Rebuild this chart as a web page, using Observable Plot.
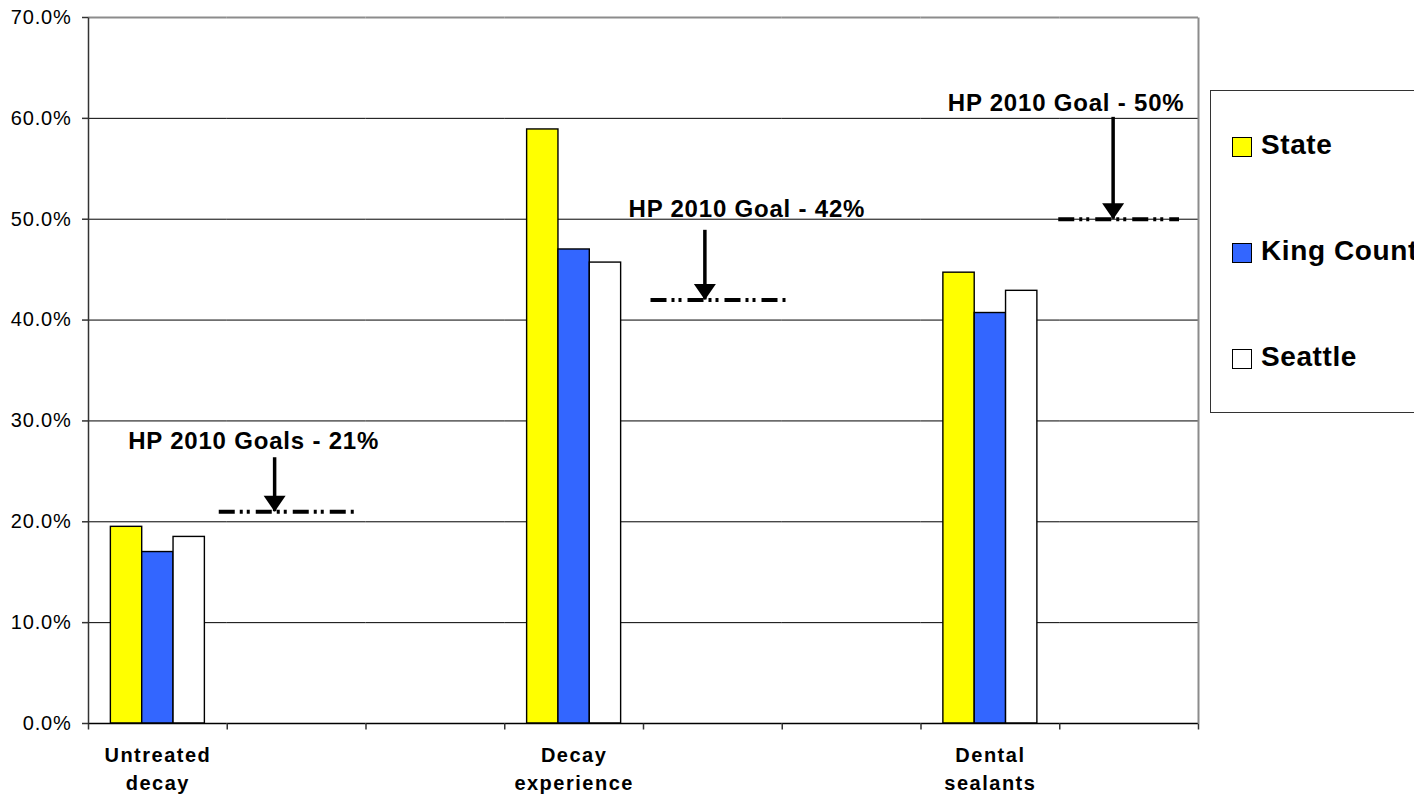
<!DOCTYPE html>
<html>
<head>
<meta charset="utf-8">
<script src="https://cdn.jsdelivr.net/npm/d3@7"></script>
<script src="https://cdn.jsdelivr.net/npm/@observablehq/plot@0.6"></script>
<style>
  html, body { margin: 0; padding: 0; background: #fff; overflow: hidden; }
  #chart { position: relative; width: 1414px; height: 795px; overflow: hidden; font-family: "Liberation Sans", Arial, sans-serif; }
  #chart svg { position: absolute; left: 0; top: 0; }
  .legend { position: absolute; left: 1210px; top: 90px; width: 260px; height: 323px; border: 1px solid #333; box-sizing: border-box; background: #fff; }
  .legend .item { position: absolute; left: 21px; height: 28px; display: flex; align-items: center; font-weight: bold; font-size: 28px; line-height: 28px; letter-spacing: 0.6px; white-space: nowrap; color: #000; }
  .legend .swatch { width: 18px; height: 18px; border: 1.5px solid #000; margin-right: 9px; margin-top: 3px; flex: none; }
</style>
</head>
<body>
<div id="chart"></div>
<script>
// Oral health indicators vs. Healthy People 2010 goals
const categories = ["Untreated decay", "Decay experience", "Dental sealants"];
const series = ["State", "King County", "Seattle"];
const seriesColors = ["#FFFF00", "#3366FF", "#FFFFFF"];
const state = [19.5, 58.9, 44.7];
const kingCounty = [17.0, 47.0, 40.7];
const seattle = [18.5, 45.7, 42.9];
const goalValues = [21, 42, 50];
const goalLabels = ["HP 2010 Goals - 21%", "HP 2010 Goal - 42%", "HP 2010 Goal - 50%"];
const yTicks = [0, 10, 20, 30, 40, 50, 60, 70];

// Layout of the chart
const W = 1414, H = 795;
const mL = 88, mR = 216, mT = 17, mB = 72;
const plotH = H - mT - mB;
const yMax = yTicks[yTicks.length - 1];

// Each category gets its own slot, followed by a slot for its goal and a spacer
const goalSlot = c => "goal: " + c;
const gapSlot = c => "gap: " + c;
const slots = categories.flatMap((c, i) =>
  i < categories.length - 1 ? [c, goalSlot(c), gapSlot(c)] : [c, goalSlot(c)]);
const step = (W - mL - mR) / slots.length;

const values = [state, kingCounty, seattle];
const rows = categories.flatMap((c, i) =>
  series.map((s, k) => ({slot: c, series: s, value: values[k][i]})));
const goals = categories.map((c, i) => ({slot: goalSlot(c), value: goalValues[i], label: goalLabels[i]}));

// Placement of each goal callout (pixel offsets from the slot centre, heights in %)
const callouts = [
  {lineDx: -8, insetLeft: 0, insetRight: 0, arrowDx: -22, arrowFrom: 26.35, labelDx: -43, labelAt: 27.25},
  {lineDx: 7.5, insetLeft: 0, insetRight: 0, arrowDx: -8, arrowFrom: 48.9, labelDx: 34, labelAt: 50.2},
  {lineDx: 0, insetLeft: -1, insetRight: 19, arrowDx: -16, arrowFrom: 60.1, labelDx: -63, labelAt: 60.7}
];

// Filled downward arrowhead with its tip at the origin
const arrowHead = {
  draw(ctx) { ctx.moveTo(0, 0); ctx.lineTo(-11, -16); ctx.lineTo(11, -16); ctx.closePath(); }
};
// Short tick hanging below the category axis
const tickMark = {
  draw(ctx) { ctx.moveTo(0, 0); ctx.lineTo(0, 6); }
};
// Vertical edge of the plotting area, drawn up from the baseline
const edgeLine = {
  draw(ctx) { ctx.moveTo(0, 0); ctx.lineTo(0, -plotH); }
};
const middle = () => series[1]; // centre band of a slot

const calloutMarks = callouts.flatMap((o, i) => {
  const g = [goals[i]];
  return [
    Plot.ruleY(g, {fx: "slot", y: "value", dx: o.lineDx, insetLeft: o.insetLeft, insetRight: o.insetRight,
      stroke: "#000", strokeWidth: 4, strokeDasharray: "16,5,3,4,3,6"}),
    Plot.ruleX(g, {fx: "slot", x: middle, y1: o.arrowFrom, y2: "value", dx: o.arrowDx, stroke: "#000", strokeWidth: 3.5}),
    Plot.dot(g, {fx: "slot", y: "value", dx: o.arrowDx, symbol: arrowHead, fill: "#000", stroke: "none"}),
    Plot.text(g, {fx: "slot", y: o.labelAt, text: "label", dx: o.labelDx, lineAnchor: "bottom",
      fontSize: 24, fontWeight: "bold", fill: "#000"})
  ];
});

const chart = Plot.plot({
  width: W,
  height: H,
  marginLeft: mL,
  marginRight: mR,
  marginTop: mT,
  marginBottom: mB,
  style: {fontFamily: '"Liberation Sans", Arial, sans-serif', fontSize: "20px", background: "#fff", color: "#000"},
  fx: {domain: slots, padding: 0, round: false, axis: null, label: null},
  x: {domain: series, paddingInner: 0, paddingOuter: 0.714, round: false, axis: null, label: null},
  y: {domain: [0, yMax], axis: null, label: null},
  color: {domain: series, range: seriesColors},
  marks: [
    Plot.ruleY(yTicks.filter(t => t > 0 && t < yMax), {stroke: "#000", strokeWidth: 1}),
    Plot.ruleY([yMax], {stroke: "#8c8c8c", strokeWidth: 2}),
    Plot.barY(rows, {fx: "slot", x: "series", y: "value", fill: "series", stroke: "#000", strokeWidth: 1.4}),
    Plot.ruleY([0], {stroke: "#000", strokeWidth: 1.5}),
    Plot.dot([slots[0]], {fx: d => d, y: 0, dx: -step / 2, symbol: edgeLine, stroke: "#333", fill: "none", strokeWidth: 1.5}),
    Plot.dot([slots[slots.length - 1]], {fx: d => d, y: 0, dx: step / 2, symbol: edgeLine, stroke: "#8c8c8c", fill: "none", strokeWidth: 2}),
    Plot.dot(slots, {fx: d => d, y: 0, dx: -step / 2, symbol: tickMark, stroke: "#333", fill: "none", strokeWidth: 1.5}),
    Plot.dot([slots[slots.length - 1]], {fx: d => d, y: 0, dx: step / 2, symbol: tickMark, stroke: "#333", fill: "none", strokeWidth: 1.5}),
    ...calloutMarks,
    Plot.text(categories, {fx: d => d, text: d => d.replace(" ", "\n"), frameAnchor: "bottom", lineAnchor: "top",
      dy: 19, lineHeight: 1.4, fontSize: 20, fontWeight: "bold", fill: "#000"}),
    Plot.axisY(yTicks, {tickSize: 6, tickPadding: 11, tickFormat: d => d.toFixed(1) + "%", fontSize: 20,
      stroke: "#333", strokeWidth: 1.5, label: null})
  ]
});

const root = document.getElementById("chart");
root.appendChild(chart);

// Slightly wider letter spacing for the chart's texts, by size and weight
chart.querySelectorAll("text").forEach(t => {
  const cs = getComputedStyle(t);
  const size = parseFloat(cs.fontSize);
  const bold = parseInt(cs.fontWeight, 10) >= 600;
  let spacing = 0.8;
  if (bold && size < 22) spacing = 1.5;
  t.style.letterSpacing = spacing + "px";
});

// Legend, built from the series list
const legend = document.createElement("div");
legend.className = "legend";
const legendTops = [40.4, 146.4, 252.4];
series.forEach((s, k) => {
  const item = document.createElement("div");
  item.className = "item";
  item.style.top = legendTops[k] + "px";
  const sw = document.createElement("span");
  sw.className = "swatch";
  sw.style.background = seriesColors[k];
  const label = document.createElement("span");
  label.textContent = s;
  item.appendChild(sw);
  item.appendChild(label);
  legend.appendChild(item);
});
root.appendChild(legend);
</script>
</body>
</html>
